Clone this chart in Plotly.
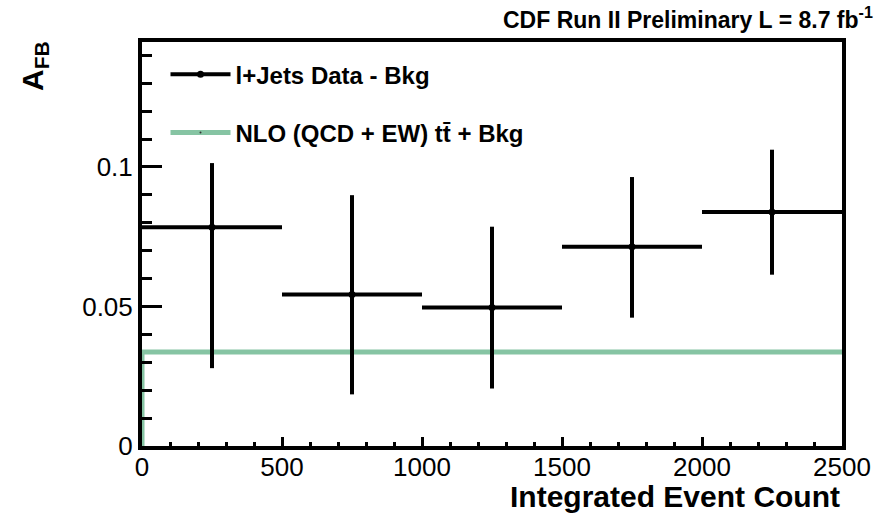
import plotly.graph_objects as go

# ---- data ----
bin_centers = [250, 750, 1250, 1750, 2250]
bin_halfwidth = [250, 250, 250, 250, 250]
afb_values = [0.0784, 0.0543, 0.0496, 0.0714, 0.0839]
err_up = [0.0230, 0.0356, 0.0290, 0.0250, 0.0223]
err_down = [0.0505, 0.0358, 0.0290, 0.0254, 0.0225]
nlo_x = [0, 0, 2500]
nlo_y = [0, 0.0337, 0.0337]
x_ticks = [0, 500, 1000, 1500, 2000, 2500]
y_ticks = [0, 0.05, 0.1]
y_ticklabels = ["0", "0.05", "0.1"]

GREEN = "#86C4A3"
FONT = "Liberation Sans, Arial, Helvetica, sans-serif"

fig = go.Figure()

# NLO prediction (histogram line)
fig.add_trace(go.Scatter(
    x=nlo_x, y=nlo_y, mode="lines",
    line=dict(color=GREEN, width=5),
    showlegend=False, hoverinfo="skip", cliponaxis=False,
))

# data points with error bars
fig.add_trace(go.Scatter(
    x=bin_centers, y=afb_values, mode="markers",
    marker=dict(color="black", size=7),
    error_x=dict(type="data", array=bin_halfwidth, color="black", thickness=4, width=0),
    error_y=dict(type="data", symmetric=False, array=err_up, arrayminus=err_down,
                 color="black", thickness=4, width=0),
    showlegend=False,
))

# legend entries
fig.add_trace(go.Scatter(
    x=[None], y=[None], mode="lines+markers",
    line=dict(color="black", width=4), marker=dict(color="black", size=7),
    name="<b>l+Jets Data - Bkg</b>", legendgroup="a",
))
fig.add_trace(go.Scatter(
    x=[None], y=[None], mode="lines+markers",
    line=dict(color=GREEN, width=5), marker=dict(color="#333333", size=2),
    name="<b>NLO (QCD + EW) tt\u0304 + Bkg</b>", legendgroup="b",
))

fig.update_layout(
    width=889, height=515,
    margin=dict(l=142, r=47, t=42, b=69),
    paper_bgcolor="white", plot_bgcolor="white",
    font=dict(family=FONT, color="black", size=24),
    legend=dict(
        x=(171 - 147.5) / 700, y=0.975, xanchor="left", yanchor="top",
        bgcolor="rgba(0,0,0,0)", font=dict(size=24, family=FONT),
        tracegroupgap=24, traceorder="grouped", itemwidth=60,
    ),
    xaxis=dict(
        range=[0, 2500], tickvals=x_ticks, ticktext=[str(v) for v in x_ticks],
        showgrid=False, zeroline=False,
        showline=True, linecolor="black", linewidth=4, mirror=True,
        ticks="inside", ticklen=9, tickwidth=3, tickcolor="black",
        minor=dict(ticks="inside", ticklen=4, tickwidth=3, tickcolor="black", dtick=100),
        tickfont=dict(size=26), ticklabelstandoff=-5,
    ),
    yaxis=dict(
        range=[0, 0.1448], tickvals=y_ticks, ticktext=y_ticklabels,
        showgrid=False, zeroline=False,
        showline=True, linecolor="black", linewidth=4, mirror=True,
        ticks="inside", ticklen=20, tickwidth=3, tickcolor="black",
        minor=dict(ticks="inside", ticklen=10, tickwidth=3, tickcolor="black", dtick=0.01, tick0=0),
        tickfont=dict(size=26),
    ),
    annotations=[
        dict(text="<b>CDF Run II Preliminary L = 8.7 fb<sup>-1</sup></b>",
             xref="paper", yref="paper", x=(875 - 142) / 700, y=(446 - 18) / 404,
             xanchor="right", yanchor="middle", showarrow=False,
             font=dict(size=23, family=FONT)),
        dict(text="<b>Integrated Event Count</b>",
             xref="paper", yref="paper", x=1.0, y=(446 - 497) / 404,
             xanchor="right", yanchor="middle", showarrow=False,
             font=dict(size=30, family=FONT)),
        dict(text="<b>A<sub>FB</sub></b>",
             xref="paper", yref="paper", x=(34 - 142) / 700, y=(446 - 66) / 404,
             xanchor="center", yanchor="middle", showarrow=False, textangle=-90,
             font=dict(size=30, family=FONT)),
    ],
)

fig.write_html("out.html")
